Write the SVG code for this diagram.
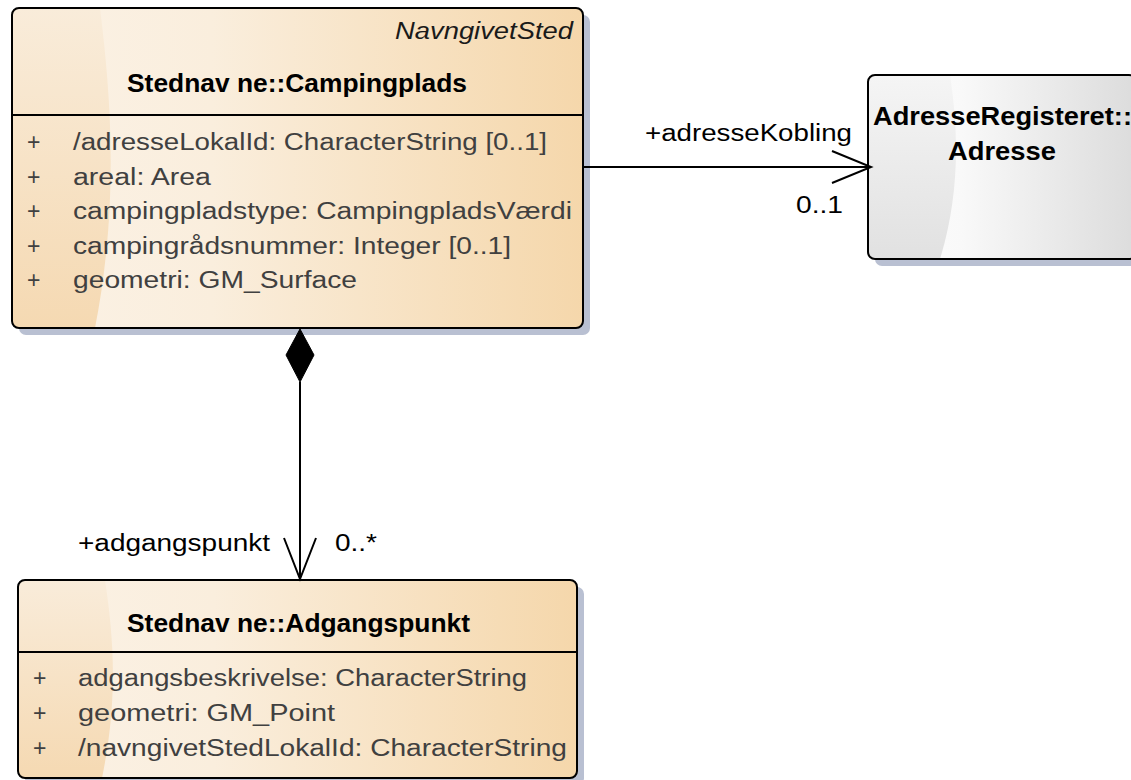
<svg xmlns="http://www.w3.org/2000/svg" width="1131" height="780" viewBox="0 0 1131 780">
<style>
.t{font-family:"Liberation Sans",Arial,sans-serif;}
.attr{font-size:23px;fill:#404040;}
.title{font-size:25px;font-weight:bold;fill:#000;}
.stereo{font-size:23px;font-style:italic;fill:#1a1a1a;}
.lbl{font-size:23px;fill:#000;}
.border{fill:none;stroke:#000;stroke-width:2;}
.shadow{fill:#b9c0d2;}
.sep{stroke:#000;stroke-width:2;}
.conn{fill:none;stroke:#000;stroke-width:2;}
</style>
<defs>
<linearGradient id="peach" x1="0" y1="0" x2="1" y2="0">
<stop offset="0" stop-color="#fbf2e6"/>
<stop offset="0.35" stop-color="#faeedd"/>
<stop offset="1" stop-color="#f5d7ab"/>
</linearGradient>
<linearGradient id="peachL" x1="0" y1="0" x2="0" y2="1">
<stop offset="0" stop-color="#f9ecda"/>
<stop offset="1" stop-color="#f5d9b2"/>
</linearGradient>
<linearGradient id="grey" x1="0" y1="0" x2="1" y2="0">
<stop offset="0" stop-color="#fefefe"/>
<stop offset="0.35" stop-color="#f9f9f9"/>
<stop offset="1" stop-color="#dcdcdc"/>
</linearGradient>
<linearGradient id="greyL" x1="0" y1="0" x2="0" y2="1">
<stop offset="0" stop-color="#f5f5f5"/>
<stop offset="1" stop-color="#e1e1e1"/>
</linearGradient>
</defs>

<g id="campingplads">
<rect class="shadow" x="19" y="15" width="571" height="320" rx="7"/>
<rect x="12" y="8" width="571" height="320" rx="7" fill="url(#peach)"/>
<path d="M19,8 L100,8 C110,90 120,200 95,328 L19,328 Q12,328 12,321 L12,15 Q12,8 19,8 Z" fill="url(#peachL)"/>
<rect class="border" x="12" y="8" width="571" height="320" rx="7"/>
<line class="sep" x1="12" y1="115" x2="583" y2="115"/>
<text class="t stereo" x="573" y="39" text-anchor="end" textLength="178" lengthAdjust="spacingAndGlyphs">NavngivetSted</text>
<text class="t title" x="127" y="92" textLength="340" lengthAdjust="spacingAndGlyphs">Stednav ne::Campingplads</text>
<g class="t attr">
<text x="27" y="150">+</text>
<text x="73" y="150" textLength="474" lengthAdjust="spacingAndGlyphs">/adresseLokalId: CharacterString [0..1]</text>
<text x="27" y="185">+</text>
<text x="73" y="185" textLength="138" lengthAdjust="spacingAndGlyphs">areal: Area</text>
<text x="27" y="219">+</text>
<text x="73" y="219" textLength="499" lengthAdjust="spacingAndGlyphs">campingpladstype: CampingpladsVærdi</text>
<text x="27" y="254">+</text>
<text x="73" y="254" textLength="438" lengthAdjust="spacingAndGlyphs">campingrådsnummer: Integer [0..1]</text>
<text x="27" y="288">+</text>
<text x="73" y="288" textLength="284" lengthAdjust="spacingAndGlyphs">geometri: GM_Surface</text>
</g>
</g>

<g id="adresse">
<rect class="shadow" x="875" y="82" width="268" height="184" rx="7"/>
<rect x="868" y="75" width="268" height="184" rx="7" fill="url(#grey)"/>
<path d="M875,75 L950,75 C960,140 958,200 940,259 L875,259 Q868,259 868,252 L868,82 Q868,75 875,75 Z" fill="url(#greyL)"/>
<rect class="border" x="868" y="75" width="268" height="184" rx="7"/>
<text class="t title" x="873" y="125" textLength="259" lengthAdjust="spacingAndGlyphs">AdresseRegisteret::</text>
<text class="t title" x="948" y="160" textLength="108" lengthAdjust="spacingAndGlyphs">Adresse</text>
</g>

<g id="adgangspunkt">
<rect class="shadow" x="25" y="587" width="559" height="198" rx="7"/>
<rect x="18" y="580" width="559" height="198" rx="7" fill="url(#peach)"/>
<path d="M25,580 L105,580 C114,640 118,700 102,778 L25,778 Q18,778 18,771 L18,587 Q18,580 25,580 Z" fill="url(#peachL)"/>
<rect class="border" x="18" y="580" width="559" height="198" rx="7"/>
<line class="sep" x1="18" y1="652" x2="577" y2="652"/>
<text class="t title" x="127" y="632" textLength="343" lengthAdjust="spacingAndGlyphs">Stednav ne::Adgangspunkt</text>
<g class="t attr">
<text x="33" y="686">+</text>
<text x="78" y="686" textLength="449" lengthAdjust="spacingAndGlyphs">adgangsbeskrivelse: CharacterString</text>
<text x="33" y="721">+</text>
<text x="78" y="721" textLength="257" lengthAdjust="spacingAndGlyphs">geometri: GM_Point</text>
<text x="33" y="756">+</text>
<text x="78" y="756" textLength="489" lengthAdjust="spacingAndGlyphs">/navngivetStedLokalId: CharacterString</text>
</g>
</g>

<g id="connectors">
<line class="conn" x1="583" y1="167" x2="871" y2="167"/>
<polyline class="conn" points="832,151 871,167 832,183"/>
<text class="t lbl" x="645" y="141" textLength="207" lengthAdjust="spacingAndGlyphs">+adresseKobling</text>
<text class="t lbl" x="796" y="213" textLength="47" lengthAdjust="spacingAndGlyphs">0..1</text>
<line class="conn" x1="300" y1="382" x2="300" y2="579"/>
<polygon points="300,329 314,355 300,382 286,355" fill="#000" stroke="#000" stroke-width="1"/>
<polyline class="conn" points="284,538 300,579 316,538"/>
<text class="t lbl" x="78" y="551" textLength="192" lengthAdjust="spacingAndGlyphs">+adgangspunkt</text>
<text class="t lbl" x="335" y="551" textLength="42" lengthAdjust="spacingAndGlyphs">0..*</text>
</g>
</svg>
